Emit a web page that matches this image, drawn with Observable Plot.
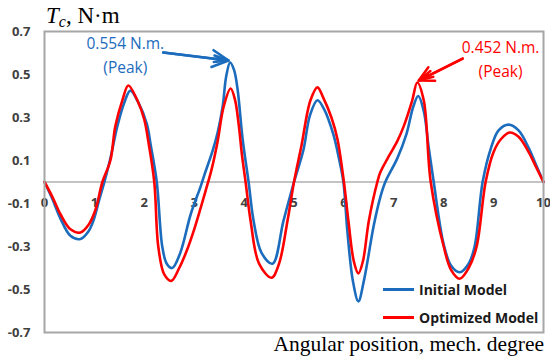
<!DOCTYPE html>
<html>
<head>
<meta charset="utf-8">
<script src="https://cdn.jsdelivr.net/npm/d3@7"></script>
<script src="https://cdn.jsdelivr.net/npm/@observablehq/plot@0.6"></script>
<style>
  body { margin: 0; background: #fff; }
  #wrap { position: relative; width: 550px; height: 358px; overflow: hidden; }
  .ov { position: absolute; white-space: nowrap; }
  .serif { font-family: "Liberation Serif", "Times New Roman", serif; color: #000; }
  .leg { position: absolute; left: 383px; display: flex; align-items: center; height: 18px;
         font-family: "Open Sans", sans-serif; font-weight: bold; font-size: 14px; color: #1a1a1a; }
  .leg .sw { width: 31px; height: 3px; margin-right: 5px; }
</style>
</head>
<body>
<div id="wrap"></div>
<script>
// ---- data ----
const seriesNames = ["Initial Model", "Optimized Model"];
const seriesColors = ["#1c6cbd", "#ff0000"];

const initialX = [0,0.16,0.32,0.52,0.72,0.88,0.98,1.1,1.2,1.33,1.46,1.6,1.72,1.88,2.05,2.13,2.25,2.36,2.45,2.56,2.72,2.93,3.13,3.2,3.37,3.47,3.57,3.64,3.72,3.8,3.87,3.97,4.09,4.19,4.35,4.57,4.79,5.0,5.19,5.32,5.47,5.6,5.79,5.9,5.99,6.07,6.18,6.29,6.4,6.6,6.73,6.83,7.07,7.25,7.39,7.49,7.6,7.7,7.8,8.0,8.15,8.32,8.5,8.62,8.78,8.95,9.1,9.3,9.5,9.7,9.85,10];
const initialY = [0,-0.08,-0.17,-0.25,-0.265,-0.23,-0.18,-0.08,0,0.12,0.26,0.37,0.425,0.37,0.27,0.17,0,-0.3,-0.38,-0.40,-0.33,-0.15,-0.02,0.03,0.146,0.23,0.35,0.49,0.556,0.52,0.43,0.2,0,-0.18,-0.33,-0.38,-0.18,0,0.15,0.31,0.38,0.34,0.22,0.11,0,-0.23,-0.46,-0.555,-0.46,-0.2,-0.07,0,0.11,0.22,0.35,0.40,0.33,0.16,0,-0.29,-0.39,-0.42,-0.38,-0.3,0,0.16,0.24,0.267,0.24,0.16,0.08,0];

const optimizedX = [0,0.16,0.32,0.52,0.72,0.88,1.02,1.16,1.32,1.42,1.56,1.68,1.86,2.0,2.08,2.2,2.28,2.4,2.54,2.7,2.85,3.0,3.13,3.23,3.35,3.47,3.59,3.73,3.82,3.89,3.96,4.03,4.13,4.3,4.55,4.7,4.87,5.0,5.15,5.33,5.47,5.59,5.75,5.87,6.0,6.09,6.2,6.29,6.38,6.5,6.67,6.73,6.9,7.07,7.2,7.37,7.47,7.6,7.74,8.0,8.15,8.32,8.5,8.66,8.84,9.0,9.15,9.32,9.5,9.7,9.85,10];
const optimizedY = [0,-0.07,-0.15,-0.22,-0.235,-0.2,-0.13,0,0.1,0.26,0.38,0.449,0.38,0.29,0.19,0,-0.3,-0.43,-0.46,-0.4,-0.32,-0.22,-0.12,-0.04,0.06,0.19,0.35,0.435,0.38,0.27,0.12,0,-0.18,-0.38,-0.445,-0.38,-0.18,0,0.17,0.38,0.44,0.39,0.3,0.2,0,-0.18,-0.37,-0.425,-0.37,-0.18,0,0.045,0.12,0.19,0.26,0.38,0.463,0.38,0,-0.3,-0.41,-0.45,-0.4,-0.3,0,0.14,0.2,0.23,0.21,0.14,0.07,0];

const yTicks = [-0.7,-0.5,-0.3,-0.1,0.1,0.3,0.5,0.7];
const xTicks = [0,1,2,3,4,5,6,7,8,9,10];

const annotations = [
  {text: "0.554 N.m.\n(Peak)", x: 1.62, y: 0.598, color: seriesColors[0]},
  {text: "0.452 N.m.\n(Peak)", x: 9.14, y: 0.578, color: seriesColors[1]}
];
const arrows = [
  {x1: 2.38, y1: 0.602, x2: 3.69, y2: 0.565, color: seriesColors[0]},
  {x1: 8.38, y1: 0.574, x2: 7.5, y2: 0.472, color: seriesColors[1]}
];

const initial = initialX.map((x, i) => ({x, y: initialY[i]}));
const optimized = optimizedX.map((x, i) => ({x, y: optimizedY[i]}));

const chart = Plot.plot({
  width: 550,
  height: 358,
  marginLeft: 44,
  marginRight: 7,
  marginTop: 31,
  marginBottom: 26,
  style: {fontFamily: "Open Sans, sans-serif", background: "#fff"},
  x: {domain: [0, 10], axis: null},
  y: {domain: [-0.7, 0.7], axis: null},
  marks: [
    Plot.ruleY([0], {stroke: "#c3c3c3", strokeWidth: 2}),
    Plot.axisY(yTicks, {tickSize: 0, tickPadding: 14, tickFormat: d => d.toFixed(1),
      fontWeight: "bold", fontSize: 13, fill: "#404040", label: null}),
    Plot.text(xTicks, {x: d => d, y: 0, dy: 21, text: d => String(d),
      fontWeight: "bold", fontSize: 13, fill: "#404040"}),
    Plot.line(initial, {x: "x", y: "y", stroke: seriesColors[0], strokeWidth: 2.6, curve: "catmull-rom"}),
    Plot.line(optimized, {x: "x", y: "y", stroke: seriesColors[1], strokeWidth: 2.6, curve: "catmull-rom"}),
    Plot.frame({stroke: "#a6a6a6", strokeWidth: 2}),
    Plot.arrow(arrows, {x1: "x1", y1: "y1", x2: "x2", y2: "y2", stroke: "color",
      strokeWidth: 2.5, headLength: 11, headAngle: 55}),
    Plot.arrow(arrows, {x1: "x1", y1: "y1", x2: "x2", y2: "y2", stroke: "color",
      strokeWidth: 2.5, headLength: 9, headAngle: 25}),
    Plot.text(annotations, {x: "x", y: "y", text: "text", fill: "color",
      fontSize: 15.5, lineHeight: 1.55})
  ]
});

const wrap = document.getElementById("wrap");
wrap.appendChild(chart);

// title (y label)
const title = document.createElement("div");
title.className = "ov serif";
title.style.cssText = "left:46px;top:4px;font-size:23px;line-height:23px;";
title.innerHTML = '<i>T</i><i style="font-size:16px;position:relative;top:4px;">c</i>, N·m';
wrap.appendChild(title);

// x label
const xl = document.createElement("div");
xl.className = "ov serif";
xl.style.cssText = "right:6px;top:334px;font-size:21.5px;line-height:21px;";
xl.textContent = "Angular position, mech. degree";
wrap.appendChild(xl);

// legend
[289, 317].forEach((cy, i) => {
  const row = document.createElement("div");
  row.className = "leg";
  row.style.top = (cy - 9) + "px";
  row.innerHTML = `<div class="sw" style="background:${seriesColors[i]}"></div><span>${seriesNames[i]}</span>`;
  wrap.appendChild(row);
});
</script>
</body>
</html>
